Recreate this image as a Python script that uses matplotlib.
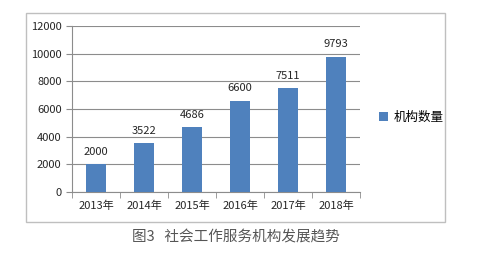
import numpy as np
import matplotlib.pyplot as plt
from matplotlib.patches import Rectangle

plt.rcParams['font.family'] = ['Noto Sans CJK SC', 'DejaVu Sans']

years = ['2013年', '2014年', '2015年', '2016年', '2017年', '2018年']
counts = [2000, 3522, 4686, 6600, 7511, 9793]
series_name = '机构数量'
caption = '图3   社会工作服务机构发展趋势'

fig = plt.figure(figsize=(5, 2.58), dpi=100)
fig.patches.append(Rectangle((0.052, 0.14), 0.838, 0.81, transform=fig.transFigure,
                             fill=False, edgecolor='#bfbfbf', linewidth=1))

ax = fig.add_axes([0.144, 0.256, 0.576, 0.643])
x = np.arange(len(years))
bars = ax.bar(x, counts, width=0.4, color='#4f81bd', label=series_name, zorder=3)
for xi, v in zip(x, counts):
    ax.text(xi, v + 550, str(v), ha='center', va='bottom', fontsize=8, color='#262626')

ax.set_xlim(-0.5, len(years) - 0.5)
ax.set_ylim(0, 12000)
ax.set_yticks(np.arange(0, 12001, 2000))
ax.yaxis.grid(True, color='#8c8c8c', linewidth=0.8, zorder=0)
ax.set_xticks(x)
ax.set_xticklabels(years)
ax.set_xticks(np.arange(-0.5, len(years)), minor=True)
ax.tick_params(axis='x', which='major', length=0, labelsize=8, pad=6, colors='#262626')
ax.tick_params(axis='x', which='minor', length=4, color='#8c8c8c')
ax.tick_params(axis='y', length=4, color='#8c8c8c', labelsize=8, colors='#262626')
for s in ['top', 'right']:
    ax.spines[s].set_visible(False)
ax.spines['left'].set_color('#8c8c8c')
ax.spines['bottom'].set_color('#8c8c8c')

fig.legend(handles=[bars], labels=[series_name], loc='center left',
           bbox_to_anchor=(0.735, 0.545), frameon=False, fontsize=9,
           handlelength=0.7, handleheight=0.7, handletextpad=0.5)

fig.text(0.472, 0.08, caption, ha='center', va='center', fontsize=10.5, color='#555555')

fig.savefig('out.png', dpi=100)
